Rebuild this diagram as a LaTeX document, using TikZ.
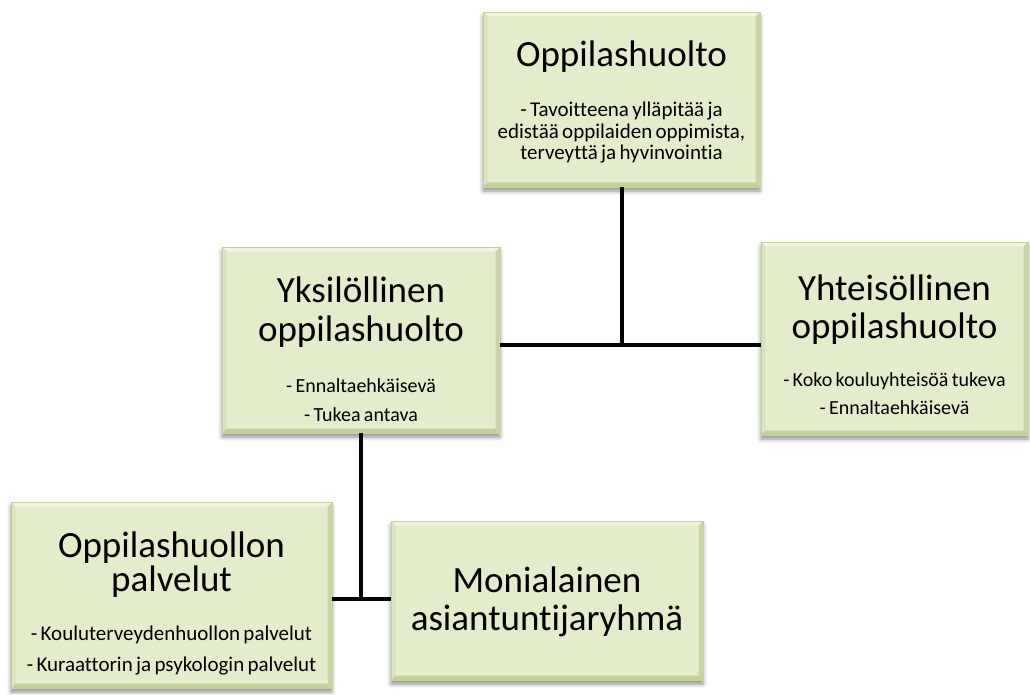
\documentclass[tikz,border=0pt]{standalone}
\usepackage{fontspec}
\setmainfont{Carlito}[Ligatures={NoCommon,NoContextual,NoRare},RawFeature={-liga;-clig;-dlig;-calt}]
\usetikzlibrary{shadows.blur}
\definecolor{boxfill}{HTML}{E3ECCB}
\definecolor{boxedge}{HTML}{C3D19E}
\definecolor{bevtop}{HTML}{F0F5E2}
\definecolor{bevleft}{HTML}{D8E4BC}
\definecolor{bevright}{HTML}{C8D6A6}
\definecolor{bevbot}{HTML}{C2D09C}
\newcommand\ttlfont[1]{\fontsize{37}{#1}\selectfont}
\newcommand\subfont[2]{\fontsize{#1}{#2}\selectfont}
\tikzset{
  boxnode/.style={rectangle, inner sep=0pt, fill=boxfill, draw=boxedge, line width=0.6pt,
    blur shadow={shadow xshift=0pt, shadow yshift=-4pt, shadow blur radius=4pt, shadow opacity=45},
    path picture={
      \fill[bevtop] (path picture bounding box.north west) -- (path picture bounding box.north east)
        -- ([shift={(-4.5pt,-4.5pt)}]path picture bounding box.north east)
        -- ([shift={(4.5pt,-4.5pt)}]path picture bounding box.north west) -- cycle;
      \fill[bevleft] (path picture bounding box.north west) -- (path picture bounding box.south west)
        -- ([shift={(4.5pt,4.5pt)}]path picture bounding box.south west)
        -- ([shift={(4.5pt,-4.5pt)}]path picture bounding box.north west) -- cycle;
      \fill[bevright] (path picture bounding box.north east) -- (path picture bounding box.south east)
        -- ([shift={(-4.5pt,4.5pt)}]path picture bounding box.south east)
        -- ([shift={(-4.5pt,-4.5pt)}]path picture bounding box.north east) -- cycle;
      \fill[bevbot] (path picture bounding box.south west) -- (path picture bounding box.south east)
        -- ([shift={(-4.5pt,4.5pt)}]path picture bounding box.south east)
        -- ([shift={(4.5pt,4.5pt)}]path picture bounding box.south west) -- cycle;
    }},
  txtnode/.style={anchor=base, inner sep=0pt, align=center, text=black},
  link/.style={line width=4pt, black}
}
\begin{document}
\begin{tikzpicture}[x=1pt, y=-1pt]
\useasboundingbox (0,0) rectangle (1030,695);

% boxes
\node[boxnode, minimum width=277pt, minimum height=175pt] (top) at (621.5,99.5) {};
\node[boxnode, minimum width=278pt, minimum height=186pt] (yks) at (361,340) {};
\node[boxnode, minimum width=267pt, minimum height=193pt] (yht) at (894.5,338.5) {};
\node[boxnode, minimum width=321pt, minimum height=186pt] (pal) at (171.5,595) {};
\node[boxnode, minimum width=312pt, minimum height=159pt] (mon) at (547,600.5) {};

% texts
\node[txtnode, text width=277pt] (toptxt) at (621.5,66.7)
  {{\ttlfont{38}Oppilashuolto\par}\vskip 29pt
   {\subfont{21}{21.2}- Tavoitteena ylläpitää ja\\edistää oppilaiden oppimista,\\terveyttä ja hyvinvointia\par}};
\node[txtnode, text width=278pt] (ykstxt) at (361,302.7)
  {{\ttlfont{38.3}Yksilöllinen\\oppilashuolto\par}\vskip 23.4pt
   {\subfont{20}{28.3}- Ennaltaehkäisevä\\- Tukea antava\par}};
\node[txtnode, text width=267pt] (yhttxt) at (894.5,300.7)
  {{\ttlfont{37.6}Yhteisöllinen\\oppilashuolto\par}\vskip 20pt
   {\subfont{20}{28.3}- Koko kouluyhteisöä tukeva\\- Ennaltaehkäisevä\par}};
\node[txtnode, text width=321pt] (paltxt) at (171.5,557.3)
  {{\ttlfont{34.4}Oppilashuollon\\palvelut\par}\vskip 18pt
   {\subfont{21}{31}- Kouluterveydenhuollon palvelut\\- Kuraattorin ja psykologin palvelut\par}};
\node[txtnode, text width=312pt] (montxt) at (547,592.7)
  {{\ttlfont{38}Monialainen\\asiantuntijaryhmä\par}};

% junctions
\coordinate (j1) at (top.south |- 0,345);
\coordinate (j2) at (361,599);

% connectors
\draw[link] (top.south) -- (j1);
\draw[link] (yks.east |- j1) -- (yht.west |- j1);
\draw[link] (yks.south -| j2) -- (j2);
\draw[link] (pal.east |- j2) -- (mon.west |- j2);
\end{tikzpicture}
\end{document}
